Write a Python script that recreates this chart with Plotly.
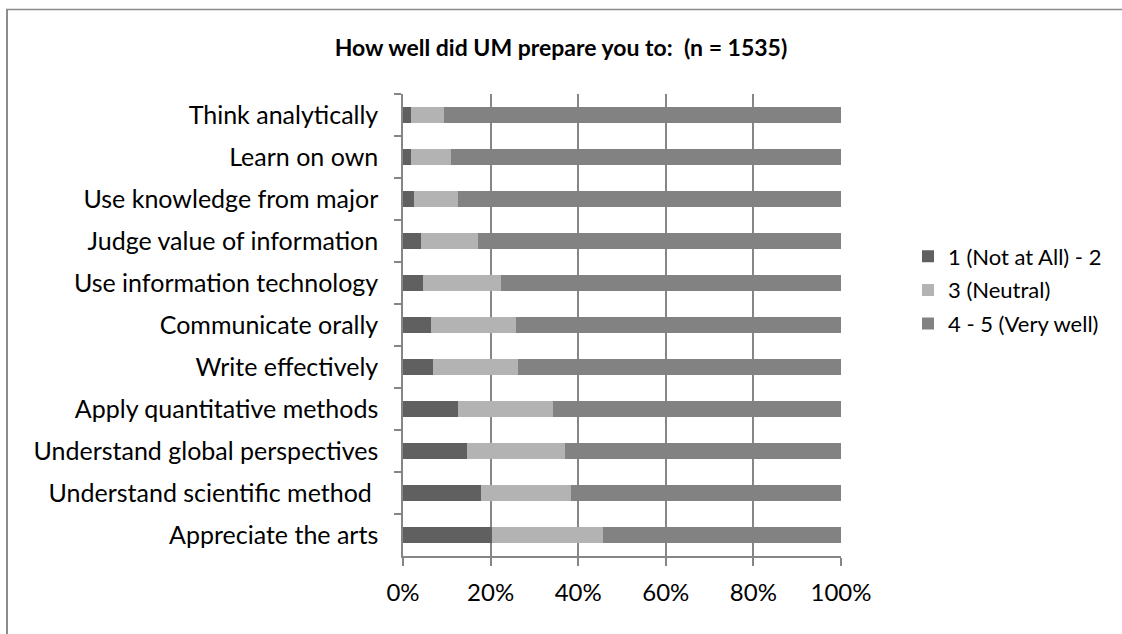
import plotly.graph_objects as go

categories = [
    "Think analytically",
    "Learn on own",
    "Use knowledge from major",
    "Judge value of information",
    "Use information technology",
    "Communicate orally",
    "Write effectively",
    "Apply quantitative methods",
    "Understand global perspectives",
    "Understand scientific method ",
    "Appreciate the arts",
]
not_at_all = [1.8, 1.8, 2.4, 4.0, 4.6, 6.4, 6.9, 12.6, 14.5, 17.8, 20.3]
neutral = [7.6, 9.1, 10.2, 13.1, 17.8, 19.4, 19.3, 21.6, 22.4, 20.6, 25.3]
very_well = [90.6, 89.1, 87.4, 82.9, 77.6, 74.2, 73.8, 65.8, 63.1, 61.6, 54.4]

series_names = ["1 (Not at All) - 2", "3 (Neutral)", "4 - 5 (Very well)"]
series_values = [not_at_all, neutral, very_well]
series_colors = ["#606060", "#b3b3b3", "#828282"]

x_ticks = [0, 20, 40, 60, 80, 100]
x_tick_labels = ["0%", "20%", "40%", "60%", "80%", "100%"]

FONT = "Lato, 'Open Sans', sans-serif"
W, H = 1122, 634
L, R, T, B = 403, 841, 94, 556
pw, ph = R - L, B - T

fig = go.Figure()
for i, (name, vals, col) in enumerate(zip(series_names, series_values, series_colors)):
    fig.add_trace(go.Bar(
        y=categories, x=vals, name=name, orientation="h",
        marker=dict(color=col, line=dict(width=0)),
        width=0.4, legendgroup=f"g{i}",
    ))

def px_to_paper_x(px):
    return (px - L) / pw

def px_to_paper_y(py):
    return (B - py) / ph

# outer chart border (left & top)
fig.add_shape(type="line", xref="paper", yref="paper",
              x0=px_to_paper_x(7), x1=px_to_paper_x(7),
              y0=px_to_paper_y(9.5), y1=px_to_paper_y(640),
              line=dict(color="#8c8c8c", width=2), layer="above")
fig.add_shape(type="line", xref="paper", yref="paper",
              x0=px_to_paper_x(6), x1=px_to_paper_x(1130),
              y0=px_to_paper_y(9.5), y1=px_to_paper_y(9.5),
              line=dict(color="#8c8c8c", width=1.5), layer="above")

fig.update_layout(
    width=W, height=H,
    margin=dict(l=L, r=W - R, t=T, b=H - B, pad=0, autoexpand=False),
    paper_bgcolor="white", plot_bgcolor="white",
    barmode="stack",
    font=dict(family=FONT, size=24, color="#000000"),
    title=dict(
        text="<b>How well did UM prepare you to:\u00a0 (n = 1535)</b>",
        x=0.5, xref="container", xanchor="center",
        y=1 - 48 / H, yref="container", yanchor="middle",
        font=dict(family=FONT, size=23, color="#000000"),
    ),
    xaxis=dict(
        range=[0, 100], tickvals=x_ticks, ticktext=x_tick_labels,
        showgrid=True, gridcolor="#868686", gridwidth=1.5,
        showline=True, linecolor="#868686", linewidth=1.5,
        ticks="outside", ticklen=8, tickcolor="#868686", tickwidth=1.5,
        zeroline=False, fixedrange=True, ticklabelstandoff=6,
        tickfont=dict(family=FONT, size=24, color="#000000"),
    ),
    yaxis=dict(
        categoryorder="array", categoryarray=categories, autorange="reversed",
        showline=True, linecolor="#868686", linewidth=1.5,
        ticks="outside", ticklen=7, tickcolor="#868686", tickwidth=1.5,
        tickson="boundaries", showgrid=False, ticklabelstandoff=18,
        tickfont=dict(family=FONT, size=25, color="#000000"),
    ),
    legend=dict(
        x=px_to_paper_x(908), xanchor="left",
        y=px_to_paper_y(290), yanchor="middle",
        traceorder="grouped", tracegroupgap=2,
        font=dict(family=FONT, size=22, color="#000000"),
        itemwidth=30, bgcolor="rgba(0,0,0,0)",
    ),
    bargap=0.6,
)

fig.write_html(
    "out.html",
    config={"displayModeBar": False},
    post_script="document.body.style.margin='0';document.body.style.padding='0';document.documentElement.style.overflow='hidden';",
)
